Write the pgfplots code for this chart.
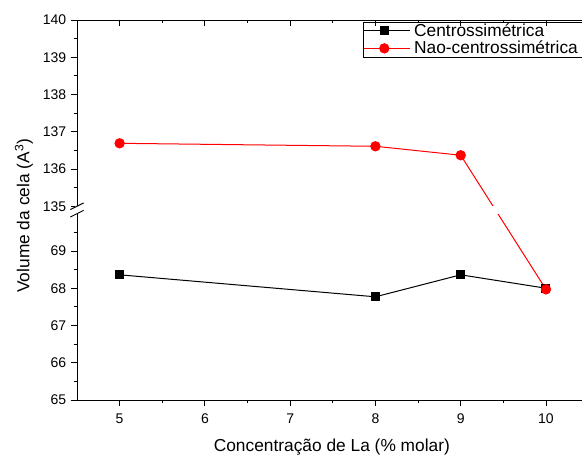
\documentclass[border=0pt]{standalone}
\usepackage{fontspec}
\setmainfont{Liberation Sans}
\usepackage{pgfplots}
\pgfplotsset{compat=1.18}

\begin{document}
\begin{tikzpicture}
\begin{axis}[
    at={(0,0)}, anchor=south west,
    scale only axis,
    width=390.1pt, height=285pt,
    xmin=4.5, xmax=10.6,
    ymin=65, ymax=75.2,
    axis x line*=bottom, axis y line*=left,
    axis line style={line width=0.7pt},
    tick align=outside,
    major tick length=4.5pt, minor tick length=2.5pt,
    tick style={line width=0.7pt, black},
    xtick={5,6,7,8,9,10},
    minor x tick num=1,
    ytick={65,66,67,68,69,70.2,71.2,72.2,73.2,74.2,75.2},
    yticklabels={65,66,67,68,69,135,136,137,138,139,140},
    minor ytick={65.5,66.5,67.5,68.5,69.5,70.7,71.7,72.7,73.7,74.7},
    /pgf/number format/assume math mode=true,
    ticklabel style={font=\fontsize{10.5}{12}\selectfont},
    xticklabel style={yshift=-2pt},
    xlabel={Concentração de La (\% molar)},
    ylabel={Volume da cela (A\textsuperscript{3})},
    label style={font=\fontsize{13}{14}\selectfont},
    xlabel style={at={(axis description cs:0.49,-0.125)}, anchor=center},
    ylabel style={at={(axis description cs:-0.102,0.485)}, anchor=center, rotate=0},
    y filter/.expression={y>100 ? y-135+70.2 : y},
    clip=false,
    legend style={at={(0.5495,0.995)}, anchor=north west, draw=black, line width=0.5pt,
        font=\fontsize{13}{13}\selectfont, inner sep=0.5pt, row sep=1pt,
        nodes={inner xsep=3pt, inner ysep=0.5pt},
        cells={anchor=west}},
    legend image code/.code={%
        \path (0pt,0pt) -- (34pt,0pt);
        \draw[mark repeat=2,mark phase=2,#1] plot coordinates {(0pt,0pt) (15pt,0pt) (30pt,0pt)};},
]
\addplot[black, line width=0.75pt, mark=square*, mark size=3pt] coordinates {
    (5,68.36) (8,67.77) (9,68.36) (10,68.0)
};
\addlegendentry{Centrossimétrica}
\addplot[red, line width=0.75pt, mark=*, mark size=3.5pt] coordinates {
    (5,136.69) (8,136.61) (9,136.37) (10,67.97)
};
\addlegendentry{Nao-centrossimétrica}

% gap in the line at the axis break
\fill[white] (axis cs:9.3,70.0) rectangle (axis cs:10.3,70.2);
\end{axis}

% top axis, ticks pointing inward (left line repeated under it)
\begin{axis}[
    at={(0,0)}, anchor=south west,
    scale only axis,
    width=390.1pt, height=285pt,
    xmin=4.5, xmax=10.6,
    ymin=65, ymax=75.2,
    axis x line*=top, axis y line*=left,
    axis line style={line width=0.7pt},
    tick align=inside,
    major tick length=4.5pt, minor tick length=2.5pt,
    tick style={line width=0.7pt, black},
    xtick={5,6,7,8,9,10}, xticklabels={},
    minor x tick num=1,
    ytick=\empty,
    clip=false,
]
% break marks on the left axis
\fill[white] ([xshift=-1.5pt]axis cs:4.5,70.0) rectangle ([xshift=1.5pt]axis cs:4.5,70.2);
\draw[line width=0.7pt] ([xshift=-5pt,yshift=-2.5pt]axis cs:4.5,70.0) -- ([xshift=5pt,yshift=2.5pt]axis cs:4.5,70.0);
\draw[line width=0.7pt] ([xshift=-5pt,yshift=-2.5pt]axis cs:4.5,70.2) -- ([xshift=5pt,yshift=2.5pt]axis cs:4.5,70.2);
\end{axis}

% the reference is cropped on the right and at the top
\pgfresetboundingbox
\path[use as bounding box] (-57.75pt,-42pt) rectangle (378.75pt,300pt);
\end{tikzpicture}
\end{document}
